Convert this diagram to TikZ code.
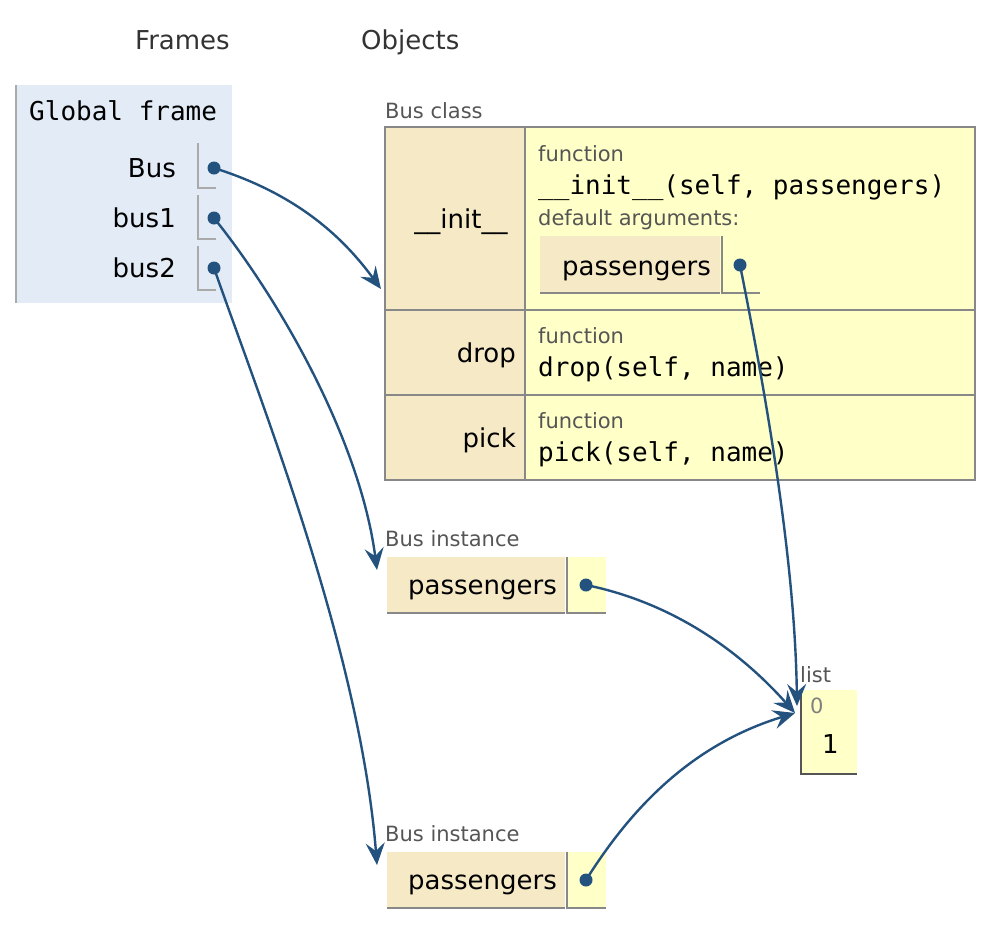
\documentclass[tikz,border=0pt]{standalone}
\usepackage{fontspec}
\setmainfont{DejaVu Sans}
\setmonofont{DejaVu Sans Mono}
\usetikzlibrary{arrows.meta}
\definecolor{framebg}{HTML}{E2EBF6}
\definecolor{keybg}{HTML}{F5E9C6}
\definecolor{valbg}{HTML}{FFFFC8}
\definecolor{cellline}{HTML}{888888}
\definecolor{boxline}{HTML}{AAAAAA}
\definecolor{listline}{HTML}{555555}
\definecolor{tagtext}{HTML}{555555}
\definecolor{ptrblue}{HTML}{24527F}
\tikzstyle{heading} = [font=\fontsize{26}{31}\selectfont, text=black!80, anchor=base west, inner sep=0pt]
\tikzstyle{tag} = [font=\fontsize{21}{25}\selectfont, text=tagtext, anchor=base west, inner sep=0pt]
\tikzstyle{varname} = [font=\fontsize{26}{31}\selectfont, anchor=base east, inner sep=0pt]
\tikzstyle{code} = [font=\ttfamily\fontsize{26}{31}\selectfont, anchor=base west, inner sep=0pt]
\tikzstyle{ptr} = [circle, fill=ptrblue, inner sep=0pt, minimum size=13pt]
\tikzstyle{cell} = [draw=cellline, line width=2pt]
\tikzstyle{refbox} = [draw=boxline, line width=2pt]
\tikzstyle{arrow} = [ptrblue, line width=2.4pt, -{Stealth[length=22pt, width=19pt, inset=8pt]}]

\begin{document}
\begin{tikzpicture}[x=1pt, y=-1pt]
		\useasboundingbox (0,0) rectangle (1006,930);
		\node (frames) [heading] at (135,49) {Frames};
		\node (objects) [heading] at (361,49) {Objects};
		\fill [framebg] (15,85) rectangle (232,303);
		\draw [refbox] (16,85) -- (16,303);
		\node (globaltitle) [code] at (29,120) {Global frame};
		\node (busname) [varname] at (176,177) {Bus};
		\node (bus1name) [varname] at (176,227) {bus1};
		\node (bus2name) [varname] at (176,277) {bus2};
		\draw [refbox] (198,143) -- (198,188) -- (216,188);
		\draw [refbox] (198,195) -- (198,239) -- (216,239);
		\draw [refbox] (198,246) -- (198,290) -- (216,290);
		\node (classtag) [tag] at (385,118) {Bus class};
		\fill [keybg] (385,127) rectangle (525,480);
		\fill [valbg] (525,127) rectangle (975,480);
		\draw [cell] (385,127) rectangle (975,480);
		\draw [cell] (525,127) -- (525,480);
		\draw [cell] (385,310) -- (975,310);
		\draw [cell] (385,395) -- (975,395);
		\node (initname) [varname, anchor=base] at (461,228) {\_\_init\_\_};
		\node (inittag) [tag] at (538,161) {function};
		\node (initsig) [code] at (538,194) {\_\_init\_\_(self, passengers)};
		\node (deftag) [tag] at (538,225) {default arguments:};
		\fill [keybg] (540,236) rectangle (720,293);
		\draw [cell] (540,293) -- (720,293);
		\draw [cell] (722,236) -- (722,293) -- (760,293);
		\node (defname) [varname] at (711,275) {passengers};
		\node (dropname) [varname] at (516,362) {drop};
		\node (droptag) [tag] at (538,343) {function};
		\node (dropsig) [code] at (538,376) {drop(self, name)};
		\node (pickname) [varname] at (516,447) {pick};
		\node (picktag) [tag] at (538,428) {function};
		\node (picksig) [code] at (538,461) {pick(self, name)};
		\node (inst1tag) [tag] at (385,546) {Bus instance};
		\fill [keybg] (387,557) rectangle (565,613);
		\fill [valbg] (568,557) rectangle (606,613);
		\draw [cell] (387,613) -- (565,613);
		\draw [cell] (567,557) -- (567,613) -- (606,613);
		\node (inst1name) [varname] at (557,594) {passengers};
		\node (inst2tag) [tag] at (385,841) {Bus instance};
		\fill [keybg] (387,852) rectangle (565,908);
		\fill [valbg] (568,852) rectangle (606,908);
		\draw [cell] (387,908) -- (565,908);
		\draw [cell] (567,852) -- (567,908) -- (606,908);
		\node (inst2name) [varname] at (557,889) {passengers};
		\node (listtag) [tag] at (800,682) {list};
		\fill [valbg] (800,690) rectangle (857,775);
		\draw [listline, line width=2pt] (801,690) -- (801,774) -- (857,774);
		\node (listidx) [tag, text=gray] at (810,713) {0};
		\node (listval) [varname, anchor=base west] at (822,753) {1};
		\node (busref) [ptr] at (214,168) {};
		\node (bus1ref) [ptr] at (214,218) {};
		\node (bus2ref) [ptr] at (214,268) {};
		\node (defref) [ptr] at (740,265) {};
		\node (inst1ref) [ptr] at (586,585) {};
		\node (inst2ref) [ptr] at (586,880) {};
		\coordinate (classin) at (381,289);
		\coordinate (inst1in) at (377,570);
		\coordinate (inst2in) at (377,865);
		\coordinate (listtop) at (797,706);
		\coordinate (listside) at (795,713);
		\draw [arrow] (busref.center) .. controls (300,195) and (345,240) .. (classin);
		\draw [arrow] (bus1ref.center) .. controls (280,300) and (360,440) .. (inst1in);
		\draw [arrow] (bus2ref.center) .. controls (260,400) and (360,650) .. (inst2in);
		\draw [arrow] (defref.center) .. controls (766,395) and (795,560) .. (listtop);
		\draw [arrow] (inst1ref.center) .. controls (660,600) and (730,640) .. (listside);
		\draw [arrow] (inst2ref.center) .. controls (630,810) and (690,745) .. (listside);
	\end{tikzpicture}
\end{document}
